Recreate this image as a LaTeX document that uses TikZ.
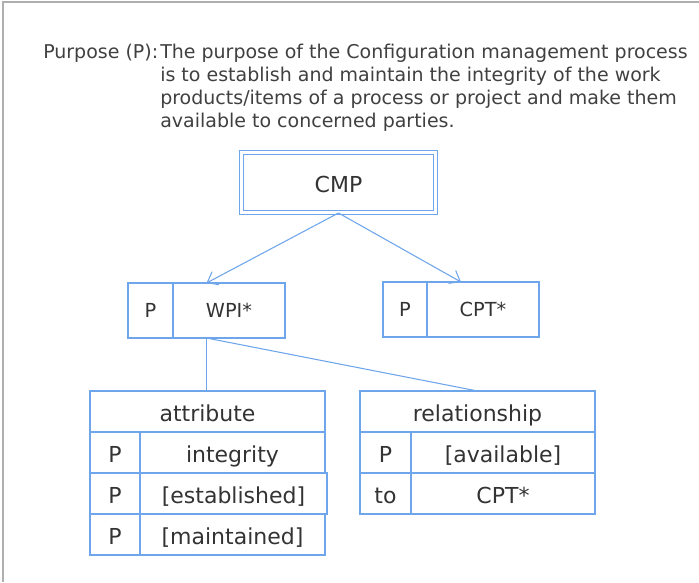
\documentclass[tikz,border=0pt]{standalone}
\usepackage{fontspec}
\setmainfont{DejaVu Sans}
\usetikzlibrary{arrows.meta,calc}
\definecolor{boxblue}{RGB}{110,165,235}
\definecolor{framegray}{RGB}{175,175,175}
\def\px{0.75pt}

\begin{document}
\begin{tikzpicture}[x=0.75pt, y=-0.75pt,
	cell/.style={draw=boxblue, line width=0.9pt, inner sep=0pt, outer sep=0pt, text=black!80, font=\fontsize{16.5}{20}\selectfont, text height=15pt, text depth=0pt, minimum height=41*\px},
	item/.style={cell, font=\fontsize{14.5}{17}\selectfont, text height=11.5pt, text depth=0.5pt, minimum height=55*\px},
	process/.style={draw=boxblue, line width=0.75pt, double=white, double distance=1.6pt, inner sep=0pt, text=black!80, font=\fontsize{16.5}{20}\selectfont, text height=14.5pt, text depth=0pt},
	link/.style={draw=boxblue, line width=0.8pt},
	purpose/.style={inner sep=0pt, text=black!75, font=\fontsize{14.25}{17.25}\selectfont}]
	\useasboundingbox (0,0) rectangle (699,582);
	\draw[framegray, line width=1.2pt] (3,582) -- (3,2) -- (699,2);

	\node[purpose, anchor=north east] (purpose-label) at (158.5,43.5) {Purpose (P):};
	\node[purpose, anchor=north west, align=left] (purpose-text) at (160,43.5) {The purpose of the Configuration management process\\is to establish and maintain the integrity of the work\\products/items of a process or project and make them\\available to concerned parties.};

	\node[process, minimum width=194*\px, minimum height=60*\px] (cmp) at (338.5,182.5) {CMP};

	\node[item, minimum width=45*\px] (wpi-p) at (150.5,310.5) {P};
	\node[item, minimum width=112*\px] (wpi) at (229,310.5) {WPI*};
	\node[item, minimum width=44*\px] (cpt-p) at (405,309.5) {P};
	\node[item, minimum width=112*\px] (cpt) at (483,309.5) {CPT*};

	\draw[link, -{Straight Barb[length=7pt,width=11pt,line width=0.8pt]}] (cmp.south) -- ($(wpi-p.north west)!0.5!(wpi.north east)$);
	\draw[link, -{Straight Barb[length=7pt,width=11pt,line width=0.8pt]}] (cmp.south) -- ($(cpt-p.north west)!0.5!(cpt.north east)$);

	\node[cell, minimum width=235*\px] (attr) at (207.5,411.5) {attribute};
	\node[cell, minimum width=50*\px] (attr-p1) at (115,452.5) {P};
	\node[cell, minimum width=185*\px] (attr-v1) at (232.5,452.5) {integrity};
	\node[cell, minimum width=50*\px] (attr-p2) at (115,493.5) {P};
	\node[cell, minimum width=187*\px] (attr-v2) at (233.5,493.5) {[established]};
	\node[cell, minimum width=50*\px] (attr-p3) at (115,534.5) {P};
	\node[cell, minimum width=185*\px] (attr-v3) at (232.5,534.5) {[maintained]};

	\node[cell, minimum width=235*\px] (rel) at (477.5,411.5) {relationship};
	\node[cell, minimum width=51*\px] (rel-p1) at (385.5,452.5) {P};
	\node[cell, minimum width=184*\px] (rel-v1) at (503,452.5) {[available]};
	\node[cell, minimum width=51*\px] (rel-to) at (385.5,493.5) {to};
	\node[cell, minimum width=184*\px] (rel-v2) at (503,493.5) {CPT*};

	\coordinate (wpi-base) at ($(wpi-p.south west)!0.5!(wpi.south east)$);
	\draw[link] (wpi-base) -- (wpi-base |- attr.north);
	\draw[link] (wpi-base) -- (rel.north);
\end{tikzpicture}
\end{document}
